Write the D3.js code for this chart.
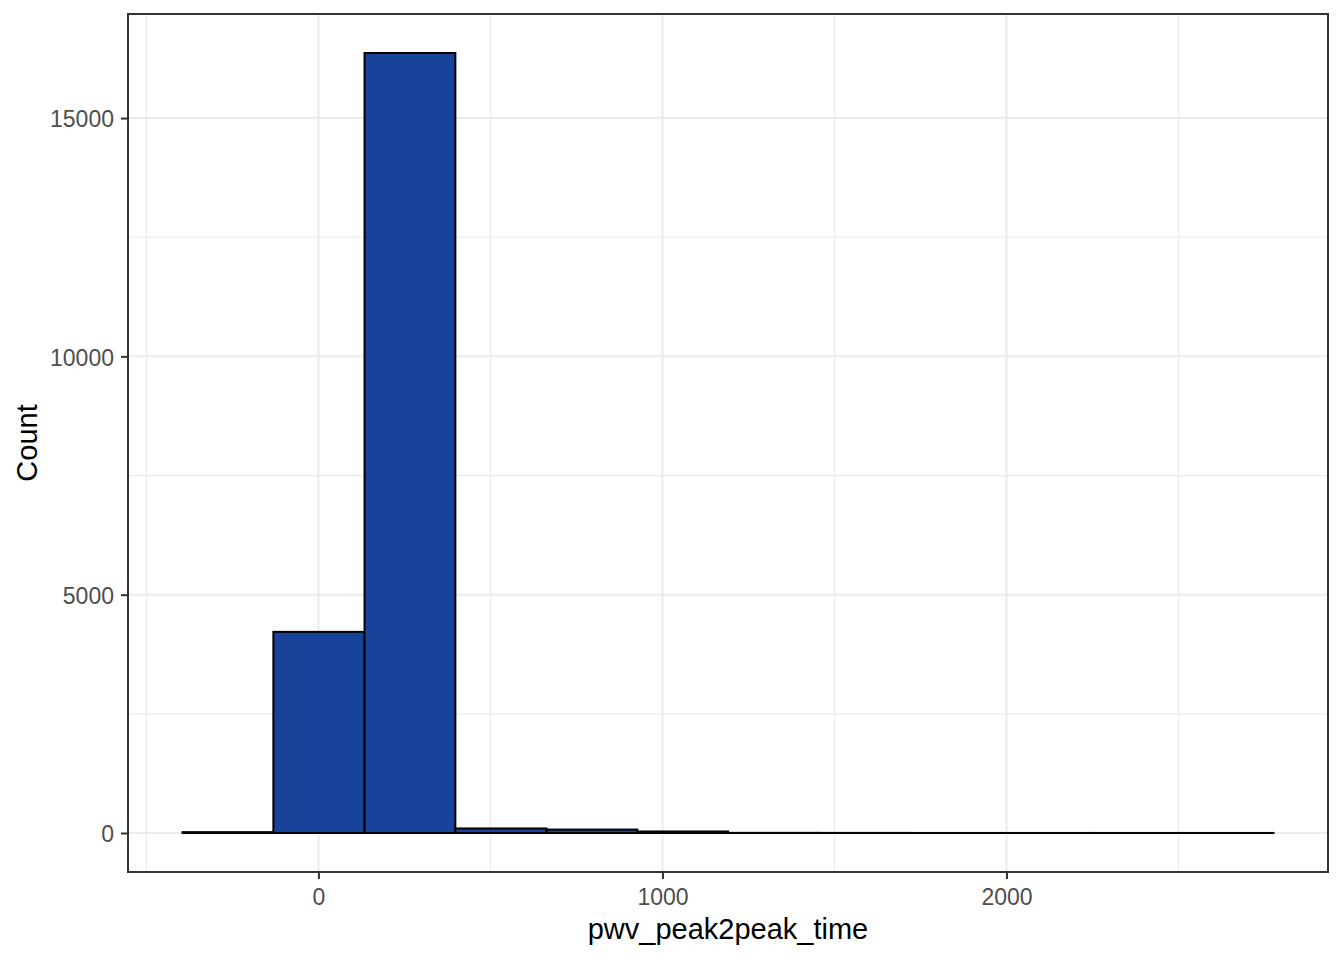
<!DOCTYPE html>
<html>
<head>
<meta charset="utf-8">
<script src="https://cdn.jsdelivr.net/npm/d3@7/dist/d3.min.js"></script>
<style>
  html, body { margin: 0; padding: 0; background: #fff; }
  svg { display: block; font-family: "Liberation Sans", Arial, sans-serif; }
</style>
</head>
<body>
<svg id="chart" width="1344" height="960"></svg>
<script>
// ---- data ----
const binEdges = [-395, -131, 134, 398, 663, 927, 1191, 1456, 1720, 1984, 2248, 2512, 2776];
const binCounts = [18, 4220, 16365, 95, 72, 32, 3, 2, 1, 1, 1, 1];
const xTicks = [0, 1000, 2000];
const yTicks = [0, 5000, 10000, 15000];
const xTitle = "pwv_peak2peak_time";
const yTitle = "Count";

// ---- layout ----
const W = 1344, H = 960;
const panel = { left: 128, right: 1328, top: 14, bottom: 872 };

const svg = d3.select("#chart");

const xMin = d3.min(binEdges), xMax = d3.max(binEdges);
const xPad = (xMax - xMin) * 0.05;
const x = d3.scaleLinear().domain([xMin - xPad, xMax + xPad]).range([panel.left, panel.right]);

const yMax = d3.max(binCounts);
const yPad = yMax * 0.05;
const y = d3.scaleLinear().domain([-yPad, yMax + yPad]).range([panel.bottom, panel.top]);

// background
svg.append("rect").attr("x", 0).attr("y", 0).attr("width", W).attr("height", H).attr("fill", "#fff");

// minor gridlines
const xStep = xTicks[1] - xTicks[0];
const yStep = yTicks[1] - yTicks[0];
const xMinor = d3.range(Math.floor(x.domain()[0] / xStep) * xStep + xStep / 2, x.domain()[1], xStep)
  .filter(v => v > x.domain()[0] && v < x.domain()[1]);
const yMinor = d3.range(Math.floor(y.domain()[0] / yStep) * yStep + yStep / 2, y.domain()[1], yStep)
  .filter(v => v > y.domain()[0] && v < y.domain()[1]);

const grid = svg.append("g");
grid.selectAll(".xminor").data(xMinor).enter().append("line")
  .attr("x1", d => x(d)).attr("x2", d => x(d)).attr("y1", panel.top).attr("y2", panel.bottom)
  .attr("stroke", "#EBEBEB").attr("stroke-width", 1.2);
grid.selectAll(".yminor").data(yMinor).enter().append("line")
  .attr("y1", d => y(d)).attr("y2", d => y(d)).attr("x1", panel.left).attr("x2", panel.right)
  .attr("stroke", "#EBEBEB").attr("stroke-width", 1.2);
grid.selectAll(".xmajor").data(xTicks).enter().append("line")
  .attr("x1", d => x(d)).attr("x2", d => x(d)).attr("y1", panel.top).attr("y2", panel.bottom)
  .attr("stroke", "#EBEBEB").attr("stroke-width", 2);
grid.selectAll(".ymajor").data(yTicks).enter().append("line")
  .attr("y1", d => y(d)).attr("y2", d => y(d)).attr("x1", panel.left).attr("x2", panel.right)
  .attr("stroke", "#EBEBEB").attr("stroke-width", 2);

// bars
const bins = binCounts.map((c, i) => ({ x0: binEdges[i], x1: binEdges[i + 1], count: c }));
svg.append("g").selectAll("rect").data(bins).enter().append("rect")
  .attr("x", d => x(d.x0))
  .attr("width", d => x(d.x1) - x(d.x0))
  .attr("y", d => y(d.count))
  .attr("height", d => y(0) - y(d.count))
  .attr("fill", "#17449A")
  .attr("stroke", "#000")
  .attr("stroke-width", 2);

// panel border
svg.append("rect")
  .attr("x", panel.left).attr("y", panel.top)
  .attr("width", panel.right - panel.left).attr("height", panel.bottom - panel.top)
  .attr("fill", "none").attr("stroke", "#333333").attr("stroke-width", 2);

// axes
const xAxis = d3.axisBottom(x).tickValues(xTicks).tickSize(7).tickPadding(10).tickFormat(d3.format("d"));
const yAxis = d3.axisLeft(y).tickValues(yTicks).tickSize(7).tickPadding(7).tickFormat(d3.format("d"));

const gx = svg.append("g").attr("transform", `translate(0,${panel.bottom})`).call(xAxis);
const gy = svg.append("g").attr("transform", `translate(${panel.left},0)`).call(yAxis);
[gx, gy].forEach(g => {
  g.select(".domain").remove();
  g.selectAll(".tick line").attr("stroke", "#333333").attr("stroke-width", 2);
  g.selectAll(".tick text").attr("fill", "#4D4D4D")
    .style("font-size", "23px").style("font-family", "'Liberation Sans', Arial, sans-serif");
});
gy.selectAll(".tick text").attr("dy", "0.38em");

// titles
svg.append("text")
  .attr("x", (panel.left + panel.right) / 2).attr("y", 939)
  .attr("text-anchor", "middle").attr("fill", "#000")
  .style("font-size", "29px")
  .text(xTitle);

svg.append("text")
  .attr("transform", `translate(37,${(panel.top + panel.bottom) / 2}) rotate(-90)`)
  .attr("text-anchor", "middle").attr("fill", "#000")
  .style("font-size", "29px")
  .text(yTitle);
</script>
</body>
</html>
